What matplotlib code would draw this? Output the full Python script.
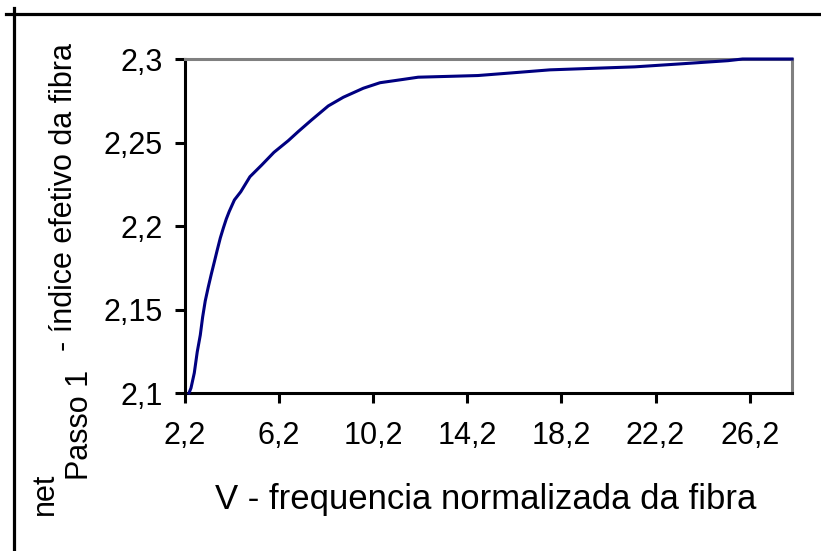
import matplotlib
matplotlib.use("Agg")
import matplotlib.pyplot as plt
from matplotlib.lines import Line2D

plt.rcParams['font.family'] = ['Liberation Sans', 'DejaVu Sans']

# V - normalised frequency, n - effective index
V = [2.37, 2.455, 2.595, 2.72, 2.85, 2.95, 3.06, 3.19, 3.32, 3.445, 3.57, 3.70,
     3.83, 3.955, 4.08, 4.30, 4.57, 4.96, 5.46, 5.98, 6.59, 7.01, 7.58, 8.29,
     8.93, 9.78, 10.49, 11.48, 12.11, 13.4, 14.65, 16.1, 17.71, 21.32, 23.28,
     25.28, 25.9, 28.0]
n_ef = [2.100, 2.103, 2.112, 2.1246, 2.1347, 2.1455, 2.1551, 2.1635, 2.1713,
        2.1784, 2.1856, 2.1928, 2.1988, 2.2042, 2.2087, 2.2156, 2.2205, 2.2295,
        2.2365, 2.2441, 2.2511, 2.2565, 2.2635, 2.2719, 2.2771, 2.2825, 2.2858,
        2.2878, 2.2891, 2.2896, 2.2901, 2.2917, 2.2935, 2.2953, 2.2971, 2.299,
        2.3, 2.3]

xticks = [2.2, 6.2, 10.2, 14.2, 18.2, 22.2, 26.2]
xlabels = ["2,2", "6,2", "10,2", "14,2", "18,2", "22,2", "26,2"]
yticks = [2.1, 2.15, 2.2, 2.25, 2.3]
ylabels = ["2,1", "2,15", "2,2", "2,25", "2,3"]

W, H = 821, 551
fig = plt.figure(figsize=(W / 100, H / 100), dpi=100)
ax = fig.add_axes([185 / W, 1 - 393 / H, (792 - 185) / W, (393 - 59) / H])

ax.plot(V, n_ef, color="#000080", lw=2.2, zorder=3, clip_on=False)

ax.set_xlim(2.2, 28.0)
ax.set_ylim(2.1, 2.3)
ax.set_xticks(xticks)
ax.set_xticklabels(xlabels)
ax.set_yticks(yticks)
ax.set_yticklabels(ylabels)
ax.tick_params(axis="both", direction="out", length=7.2, width=2.2, labelsize=22,
               color="black")
ax.tick_params(axis="y", pad=9)
ax.tick_params(axis="x", pad=13)

for s in ["left", "bottom"]:
    ax.spines[s].set_color("black")
    ax.spines[s].set_linewidth(2.2)
for s in ["top", "right"]:
    ax.spines[s].set_color("#808080")
    ax.spines[s].set_linewidth(2.2)

# axis titles placed like the original (y title with odd sub/superscript parts)
def fx(px):
    return px / W

def fy(py):
    return 1 - py / H

fig.text(fx(486), fy(509), "V - frequencia normalizada da fibra", fontsize=25,
         ha="center", va="baseline")
fig.text(fx(72), fy(351), "- índice efetivo da fibra", fontsize=22, rotation=90,
         rotation_mode="anchor", ha="left", va="baseline")
fig.text(fx(88), fy(480), "Passo 1", fontsize=22, rotation=90,
         rotation_mode="anchor", ha="left", va="baseline")
fig.text(fx(53), fy(515), "net", fontsize=22, rotation=90,
         rotation_mode="anchor", ha="left", va="baseline")

# frame lines of the chart area (top and left)
fig.add_artist(Line2D([fx(6), fx(821)], [fy(13.5), fy(13.5)], color="black", lw=2.3))
fig.add_artist(Line2D([fx(14), fx(14)], [fy(8), fy(551)], color="black", lw=2.3))

fig.savefig("out.png", dpi=100)
